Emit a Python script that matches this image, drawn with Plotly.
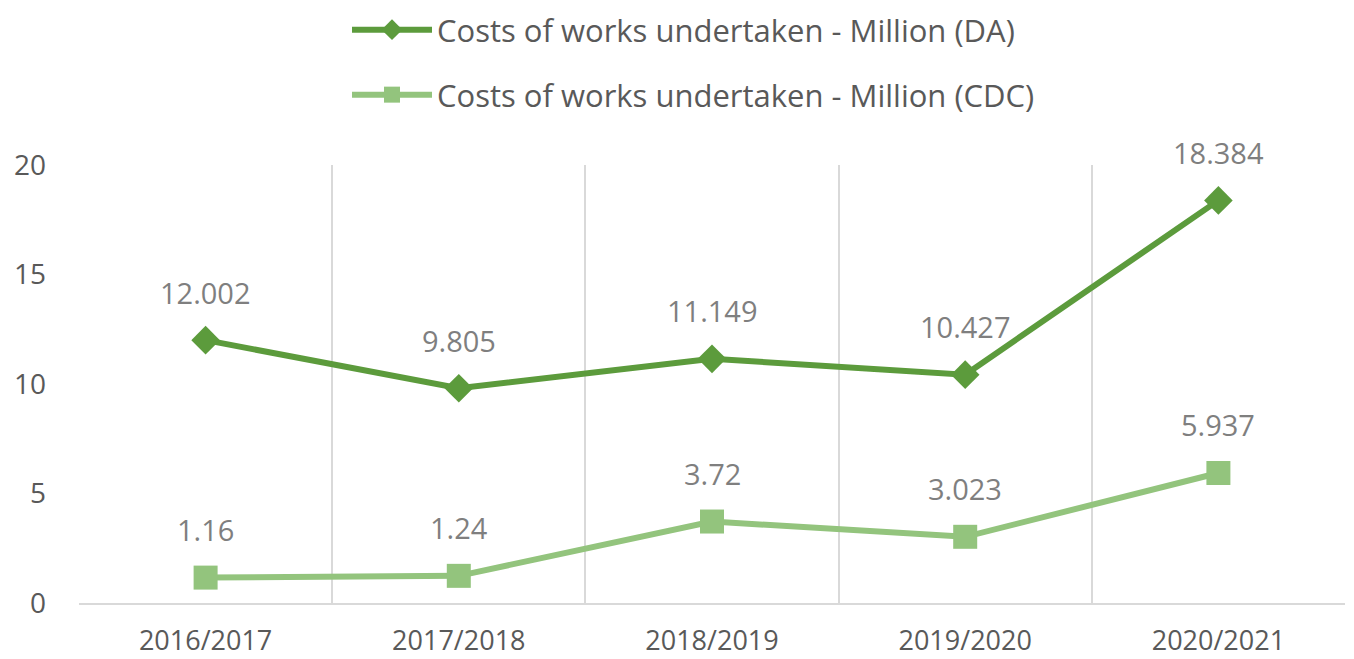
import plotly.graph_objects as go

categories = ["2016/2017", "2017/2018", "2018/2019", "2019/2020", "2020/2021"]
da_values = [12.002, 9.805, 11.149, 10.427, 18.384]
cdc_values = [1.16, 1.24, 3.72, 3.023, 5.937]
da_labels = ["12.002", "9.805", "11.149", "10.427", "18.384"]
cdc_labels = ["1.16", "1.24", "3.72", "3.023", "5.937"]
y_ticks = [0, 5, 10, 15, 20]

DA_COLOR = "#5c9b3c"
CDC_COLOR = "#93c47d"
FONT = "Open Sans"

fig = go.Figure()
fig.add_trace(go.Scatter(
    x=categories, y=da_values, mode="lines+markers",
    name="Costs of works undertaken - Million (DA)",
    line=dict(color=DA_COLOR, width=6),
    marker=dict(symbol="diamond", size=22, color=DA_COLOR),
    legend="legend", showlegend=True,
))
fig.add_trace(go.Scatter(
    x=categories, y=cdc_values, mode="lines+markers",
    name="Costs of works undertaken - Million (CDC)",
    line=dict(color=CDC_COLOR, width=6),
    marker=dict(symbol="square", size=24, color=CDC_COLOR),
    legend="legend2", showlegend=True,
))

annotations = []
for c, v, t in zip(categories, da_values, da_labels):
    annotations.append(dict(x=c, y=v, text=t, showarrow=False, yshift=48,
                            font=dict(family=FONT, size=29, color="#7f7f7f")))
for c, v, t in zip(categories, cdc_values, cdc_labels):
    annotations.append(dict(x=c, y=v, text=t, showarrow=False, yshift=48,
                            font=dict(family=FONT, size=29, color="#7f7f7f")))

legend_common = dict(xref="container", yref="container", xanchor="left", yanchor="middle",
                     font=dict(family=FONT, size=31, color="#595959"),
                     itemwidth=80, bgcolor="rgba(0,0,0,0)")

fig.update_layout(
    width=1354, height=659, showlegend=True,
    paper_bgcolor="white", plot_bgcolor="white",
    margin=dict(l=79, r=9, t=165, b=56, autoexpand=False),
    font=dict(family=FONT, color="#595959"),
    annotations=annotations,
    legend=dict(x=347 / 1354, y=1 - 30 / 659, **legend_common),
    legend2=dict(x=347 / 1354, y=1 - 95 / 659, **legend_common),
    xaxis=dict(
        type="category", range=[-0.5, 4.5], tickson="boundaries",
        showgrid=True, gridcolor="#d9d9d9", gridwidth=2,
        showline=True, linecolor="#d9d9d9", linewidth=2,
        ticks="", ticklabelstandoff=13,
        tickfont=dict(family=FONT, size=27, color="#595959"),
        zeroline=False,
    ),
    yaxis=dict(
        range=[0, 20], tickvals=y_ticks, showgrid=False, zeroline=False,
        showline=False, ticks="", ticklabelstandoff=32,
        tickfont=dict(family=FONT, size=28, color="#595959"),
    ),
)

fig.write_html("out.html", config={"displayModeBar": False},
               post_script="document.body.style.margin='0';")
